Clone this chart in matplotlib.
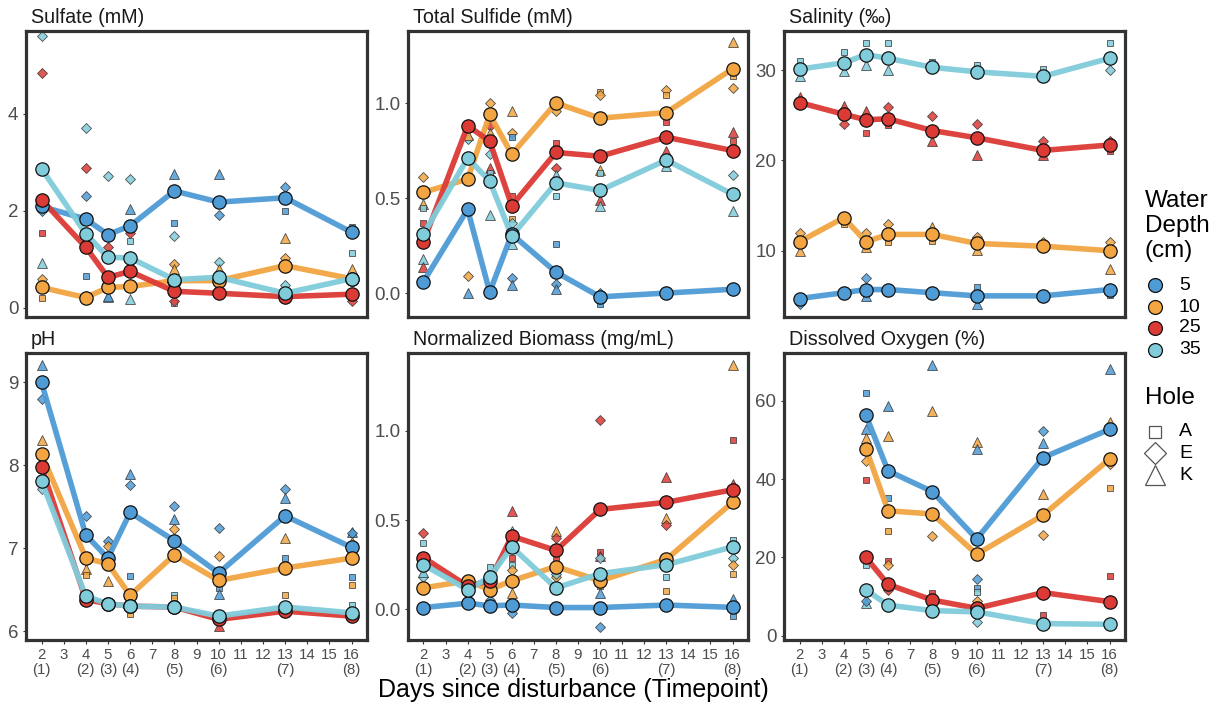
import numpy as np
import matplotlib
matplotlib.use("Agg")
import matplotlib.pyplot as plt

plt.rcParams['font.family'] = ['Liberation Sans', 'DejaVu Sans']

# ---------------- data ----------------
days = [2, 4, 5, 6, 8, 10, 13, 16]
timepoints = [1, 2, 3, 4, 5, 6, 7, 8]
depths = [5, 10, 25, 35]
depth_colors = ["#4E9BD5", "#F2A541", "#DC3A35", "#80CCDB"]
holes = ["A", "E", "K"]
hole_markers = ["s", "D", "^"]

# Sulfate (mM) means per depth
sulfate_5 = [2.09, 1.83, 1.51, 1.69, 2.41, 2.18, 2.27, 1.56]
sulfate_10 = [0.42, 0.21, 0.42, 0.44, 0.56, 0.56, 0.87, 0.60]
sulfate_25 = [2.23, 1.25, 0.63, 0.75, 0.34, 0.30, 0.23, 0.28]
sulfate_35 = [2.87, 1.53, 1.04, 1.03, 0.58, 0.63, 0.30, 0.60]
sulfate_pts = [
    (2, 35, 'E', 5.61), (2, 25, 'E', 4.84), (2, 5, 'E', 2.0), (2, 25, 'A', 1.54),
    (2, 35, 'K', 0.93), (2, 10, 'E', 0.60), (2, 10, 'A', 0.20),
    (4, 35, 'E', 3.71), (4, 25, 'E', 2.89), (4, 5, 'E', 2.31), (4, 5, 'A', 0.65), (4, 10, 'E', 0.25),
    (5, 35, 'E', 2.72), (5, 25, 'E', 1.25), (5, 35, 'K', 0.22), (5, 5, 'K', 0.25),
    (6, 35, 'E', 2.66), (6, 5, 'K', 2.03), (6, 25, 'E', 1.55), (6, 35, 'A', 1.37),
    (6, 35, 'K', 0.18), (6, 10, 'K', 0.50),
    (8, 5, 'K', 2.77), (8, 5, 'A', 1.74), (8, 35, 'E', 1.49), (8, 10, 'E', 0.90),
    (8, 10, 'K', 0.80), (8, 35, 'A', 0.09), (8, 25, 'E', 0.15),
    (10, 5, 'K', 2.75), (10, 5, 'E', 1.92), (10, 35, 'E', 0.95), (10, 10, 'K', 0.80),
    (13, 5, 'E', 2.49), (13, 5, 'A', 2.00), (13, 10, 'K', 1.44), (13, 10, 'E', 1.02),
    (13, 35, 'E', 0.47), (13, 25, 'E', 0.20),
    (16, 5, 'A', 1.67), (16, 35, 'A', 1.12), (16, 10, 'K', 0.81), (16, 25, 'E', 0.14),
]

# Total Sulfide (mM)
sulfide_5 = [0.06, 0.44, 0.005, 0.31, 0.11, -0.02, 0.0, 0.02]
sulfide_10 = [0.53, 0.60, 0.94, 0.73, 1.00, 0.92, 0.95, 1.18]
sulfide_25 = [0.27, 0.88, 0.80, 0.46, 0.74, 0.72, 0.82, 0.75]
sulfide_35 = [0.31, 0.71, 0.59, 0.30, 0.58, 0.54, 0.70, 0.52]
sulfide_pts = [
    (2, 10, 'E', 0.61), (2, 10, 'K', 0.47), (2, 35, 'A', 0.45), (2, 25, 'A', 0.37),
    (2, 35, 'K', 0.18), (2, 25, 'K', 0.135),
    (4, 10, 'E', 0.09), (4, 5, 'K', 0.0), (4, 35, 'E', 0.81), (4, 10, 'K', 0.83),
    (5, 10, 'E', 1.00), (5, 25, 'E', 0.88), (5, 10, 'K', 0.84), (5, 35, 'E', 0.73),
    (5, 25, 'K', 0.66), (5, 35, 'A', 0.63), (5, 35, 'K', 0.41),
    (6, 10, 'K', 0.96), (6, 10, 'E', 0.84), (6, 5, 'A', 0.82), (6, 25, 'A', 0.51),
    (6, 10, 'A', 0.39), (6, 35, 'E', 0.37), (6, 35, 'K', 0.26), (6, 5, 'E', 0.08), (6, 5, 'K', 0.04),
    (8, 10, 'A', 0.99), (8, 10, 'E', 0.96), (8, 25, 'A', 0.79), (8, 25, 'E', 0.66),
    (8, 35, 'K', 0.62), (8, 35, 'A', 0.51), (8, 5, 'A', 0.26), (8, 5, 'E', 0.05), (8, 5, 'K', 0.02),
    (10, 10, 'A', 1.06), (10, 10, 'E', 1.04), (10, 10, 'K', 0.65), (10, 35, 'A', 0.63),
    (10, 25, 'K', 0.49), (10, 35, 'K', 0.46), (10, 5, 'A', -0.056), (10, 5, 'E', 0.0),
    (13, 10, 'E', 1.07), (13, 10, 'A', 1.04), (13, 25, 'A', 0.90), (13, 25, 'K', 0.75), (13, 35, 'K', 0.67),
    (16, 10, 'K', 1.32), (16, 10, 'A', 1.14), (16, 10, 'E', 1.08), (16, 25, 'K', 0.85),
    (16, 25, 'A', 0.80), (16, 35, 'E', 0.62), (16, 35, 'K', 0.43),
]

# Salinity (permil)
salinity_5 = [4.7, 5.35, 5.7, 5.7, 5.35, 5.0, 5.0, 5.7]
salinity_10 = [11.0, 13.65, 11.0, 11.8, 11.8, 10.8, 10.5, 10.0]
salinity_25 = [26.4, 25.1, 24.5, 24.6, 23.3, 22.5, 21.1, 21.7]
salinity_35 = [30.1, 30.8, 31.7, 31.3, 30.3, 29.8, 29.3, 31.3]
salinity_pts = [
    (2, 35, 'A', 31.0), (2, 35, 'K', 29.3), (4, 35, 'A', 32.0), (4, 35, 'K', 29.9),
    (5, 35, 'A', 33.0), (5, 35, 'K', 30.55), (6, 35, 'A', 33.0), (6, 35, 'K', 30.0),
    (8, 35, 'A', 30.9), (10, 35, 'A', 30.55), (13, 35, 'A', 30.1), (16, 35, 'A', 33.0), (16, 35, 'E', 30.0),
    (2, 25, 'K', 27.0), (4, 25, 'K', 26.0), (4, 25, 'E', 24.0), (5, 25, 'K', 25.5), (5, 25, 'A', 23.0),
    (6, 25, 'E', 25.9), (6, 25, 'A', 23.9), (8, 25, 'E', 24.9), (8, 25, 'K', 22.1),
    (10, 25, 'E', 24.0), (10, 25, 'K', 20.6), (13, 25, 'E', 22.1), (13, 25, 'K', 20.6),
    (16, 25, 'E', 22.1), (16, 25, 'A', 21.0),
    (2, 10, 'E', 12.0), (2, 10, 'K', 10.0), (4, 10, 'A', 13.0), (5, 10, 'E', 12.0), (5, 10, 'K', 10.4),
    (6, 10, 'E', 13.0), (6, 10, 'A', 11.0), (8, 10, 'K', 12.6), (8, 10, 'A', 11.1),
    (10, 10, 'E', 11.5), (10, 10, 'K', 10.1), (13, 10, 'E', 11.0), (16, 10, 'E', 11.0), (16, 10, 'K', 8.0),
    (2, 5, 'E', 4.1), (5, 5, 'E', 7.0), (5, 5, 'K', 5.0), (10, 5, 'A', 6.0), (10, 5, 'K', 4.1), (16, 5, 'A', 5.1),
]

# pH
ph_5 = [9.00, 7.16, 6.88, 7.43, 7.09, 6.70, 7.39, 7.01]
ph_10 = [8.14, 6.88, 6.81, 6.43, 6.92, 6.61, 6.76, 6.88]
ph_25 = [7.98, 6.38, 6.33, 6.30, 6.29, 6.14, 6.24, 6.18]
ph_35 = [7.81, 6.42, 6.33, 6.30, 6.29, 6.18, 6.29, 6.22]
ph_pts = [
    (2, 5, 'K', 9.21), (2, 5, 'E', 8.80), (2, 10, 'K', 8.31), (2, 35, 'E', 7.71),
    (4, 5, 'E', 7.39), (4, 10, 'K', 6.75), (4, 10, 'A', 6.68),
    (5, 5, 'E', 7.09), (5, 10, 'E', 7.02), (5, 10, 'K', 6.60),
    (6, 5, 'K', 7.89), (6, 5, 'E', 7.76), (6, 5, 'A', 6.67), (6, 10, 'A', 6.21),
    (8, 5, 'E', 7.51), (8, 5, 'K', 7.35), (8, 10, 'E', 7.23), (8, 35, 'A', 6.44), (8, 10, 'A', 6.40),
    (10, 5, 'E', 7.24), (10, 10, 'E', 6.90), (10, 5, 'A', 6.52), (10, 5, 'K', 6.45), (10, 25, 'K', 6.06),
    (13, 5, 'E', 7.71), (13, 5, 'K', 7.61), (13, 10, 'K', 7.12), (13, 5, 'A', 6.88), (13, 10, 'A', 6.44),
    (16, 5, 'K', 7.20), (16, 5, 'E', 7.18), (16, 10, 'K', 7.07), (16, 5, 'A', 6.65),
    (16, 10, 'A', 6.56), (16, 35, 'A', 6.32),
]

# Normalized Biomass (mg/mL)
biomass_5 = [0.01, 0.034, 0.02, 0.024, 0.01, 0.01, 0.024, 0.011]
biomass_10 = [0.12, 0.16, 0.11, 0.16, 0.24, 0.16, 0.28, 0.60]
biomass_25 = [0.29, 0.13, 0.16, 0.41, 0.33, 0.56, 0.60, 0.67]
biomass_35 = [0.25, 0.11, 0.18, 0.35, 0.12, 0.20, 0.25, 0.35]
biomass_pts = [
    (2, 25, 'E', 0.43), (2, 35, 'A', 0.37), (2, 35, 'E', 0.18), (2, 35, 'K', 0.21),
    (5, 35, 'A', 0.24), (5, 5, 'E', 0.05),
    (6, 25, 'K', 0.55), (6, 35, 'K', 0.44), (6, 25, 'A', 0.29), (6, 35, 'A', 0.25),
    (6, 10, 'E', 0.22), (6, 10, 'K', 0.09), (6, 5, 'E', -0.02),
    (8, 10, 'K', 0.44), (8, 25, 'E', 0.40), (8, 25, 'A', 0.28), (8, 10, 'E', 0.18), (8, 35, 'E', 0.20),
    (10, 25, 'E', 1.06), (10, 25, 'A', 0.32), (10, 25, 'K', 0.30), (10, 35, 'E', 0.29),
    (10, 5, 'K', 0.09), (10, 10, 'A', 0.13), (10, 5, 'E', -0.10),
    (13, 25, 'K', 0.74), (13, 10, 'K', 0.51), (13, 25, 'E', 0.47), (13, 35, 'A', 0.18), (13, 10, 'A', 0.10),
    (16, 10, 'K', 1.37), (16, 25, 'A', 0.95), (16, 25, 'K', 0.70), (16, 35, 'A', 0.39),
    (16, 35, 'E', 0.29), (16, 10, 'E', 0.25), (16, 10, 'A', 0.20), (16, 5, 'K', 0.06), (16, 5, 'A', -0.04),
]

# Dissolved Oxygen (%) - not measured on days 2 and 4
do_5 = [np.nan, np.nan, 56.3, 42.1, 36.8, 24.7, 45.5, 52.7]
do_10 = [np.nan, np.nan, 47.8, 31.9, 31.1, 20.8, 30.8, 45.1]
do_25 = [np.nan, np.nan, 20.0, 13.1, 9.1, 7.0, 11.0, 8.7]
do_35 = [np.nan, np.nan, 11.7, 7.8, 6.4, 6.1, 3.1, 2.9]
do_pts = [
    (5, 5, 'A', 62.0), (5, 5, 'K', 52.9), (5, 10, 'K', 50.4), (5, 10, 'E', 44.6), (5, 25, 'A', 39.7),
    (5, 35, 'A', 18.0), (5, 35, 'K', 8.3), (5, 5, 'E', 8.8),
    (6, 5, 'K', 58.7), (6, 10, 'K', 51.1), (6, 5, 'A', 35.1), (6, 10, 'A', 26.8), (6, 25, 'A', 19.1),
    (6, 10, 'E', 18.0), (6, 25, 'E', 11.7),
    (8, 5, 'K', 69.1), (8, 10, 'K', 57.4), (8, 10, 'E', 25.5), (8, 25, 'A', 10.8),
    (10, 10, 'K', 49.5), (10, 5, 'K', 47.8), (10, 5, 'E', 14.5), (10, 5, 'A', 12.1),
    (10, 35, 'A', 11.2), (10, 10, 'E', 8.9), (10, 35, 'E', 3.6),
    (13, 5, 'E', 52.3), (13, 5, 'K', 49.1), (13, 10, 'K', 36.1), (13, 10, 'E', 25.7), (13, 25, 'A', 5.3),
    (16, 5, 'K', 68.1), (16, 10, 'K', 54.5), (16, 10, 'E', 43.8), (16, 10, 'A', 37.6), (16, 25, 'A', 15.2),
]

panels = [
    ("Sulfate (mM)", [sulfate_5, sulfate_10, sulfate_25, sulfate_35], sulfate_pts,
     (-0.19, 5.71), [0, 2, 4], ["0", "2", "4"]),
    ("Total Sulfide (mM)", [sulfide_5, sulfide_10, sulfide_25, sulfide_35], sulfide_pts,
     (-0.126, 1.379), [0.0, 0.5, 1.0], ["0.0", "0.5", "1.0"]),
    ("Salinity (‰)", [salinity_5, salinity_10, salinity_25, salinity_35], salinity_pts,
     (2.66, 34.32), [10, 20, 30], ["10", "20", "30"]),
    ("pH", [ph_5, ph_10, ph_25, ph_35], ph_pts,
     (5.892, 9.354), [6, 7, 8, 9], ["6", "7", "8", "9"]),
    ("Normalized Biomass (mg/mL)", [biomass_5, biomass_10, biomass_25, biomass_35], biomass_pts,
     (-0.172, 1.437), [0.0, 0.5, 1.0], ["0.0", "0.5", "1.0"]),
    ("Dissolved Oxygen (%)", [do_5, do_10, do_25, do_35], do_pts,
     (-1.1, 72.2), [0, 20, 40, 60], ["0", "20", "40", "60"]),
]

xtick_days = list(range(2, 17))
xtick_labels = []
for d in xtick_days:
    if d in days:
        xtick_labels.append(f"{d}\n({timepoints[days.index(d)]})")
    else:
        xtick_labels.append(str(d))

# ---------------- figure ----------------
W, H = 1220, 704
fig = plt.figure(figsize=(W / 100, H / 100), dpi=100)
cols = [(26, 367), (408, 748), (784, 1125)]
rows = [(31, 317), (353, 640)]

frame_col = "#333333"
tick_col = "#4D4D4D"
marker_sizes = {"s": 4.9, "D": 4.6, "^": 6.5}

for i, (title, means, pts, ylim, yt, ytl) in enumerate(panels):
    r, c = divmod(i, 3)
    x0, x1 = cols[c]
    y0, y1 = rows[r]
    ax = fig.add_axes([x0 / W, (H - y1) / H, (x1 - x0) / W, (y1 - y0) / H])
    ax.set_xlim(1.3, 16.7)
    ax.set_ylim(*ylim)

    # individual hole points
    for (d, dep, hole, v) in pts:
        col = depth_colors[depths.index(dep)]
        mk = hole_markers[holes.index(hole)]
        ax.plot([d], [v], linestyle="none", marker=mk, markersize=marker_sizes[mk],
                markerfacecolor=col, markeredgecolor="#333333", markeredgewidth=0.6,
                alpha=0.85, zorder=2)
    # mean lines
    for k, m in enumerate(means):
        arr = np.array(m, dtype=float)
        ok = ~np.isnan(arr)
        ax.plot(np.array(days)[ok], arr[ok], color=depth_colors[k], lw=4.0,
                alpha=0.95, solid_capstyle="round", solid_joinstyle="round", zorder=3 + k * 0.01)
    # mean points
    for k, m in enumerate(means):
        arr = np.array(m, dtype=float)
        ok = ~np.isnan(arr)
        ax.plot(np.array(days)[ok], arr[ok], linestyle="none", marker="o", markersize=9.6,
                markerfacecolor=depth_colors[k], markeredgecolor="#111111",
                markeredgewidth=0.9, zorder=4 + k * 0.01)

    for sp in ax.spines.values():
        sp.set_linewidth(2.3)
        sp.set_color(frame_col)
    ax.set_yticks(yt)
    ax.set_yticklabels(ytl)
    ax.tick_params(axis="y", length=2.5, width=0.8, color=frame_col, labelsize=13.5,
                   labelcolor=tick_col, pad=3)
    ax.set_xticks(xtick_days)
    if r == 1:
        ax.set_xticklabels(xtick_labels, linespacing=1.05)
        ax.tick_params(axis="x", length=3, width=0.8, color=frame_col, labelsize=10.8,
                       labelcolor=tick_col, pad=3)
    else:
        ax.tick_params(axis="x", length=0, labelbottom=False)
    ax.annotate(title, xy=(0, 1), xycoords="axes fraction", xytext=(3.5, 6),
                textcoords="offset points", ha="left", va="baseline",
                fontsize=14.2, color="#1A1A1A")

fig.text(573 / W, 1 - 690 / H, "Days since disturbance (Timepoint)", ha="center",
         va="center", fontsize=18, color="#000000")

# ---------------- legend (manual) ----------------
lax = fig.add_axes([0, 0, 1, 1])
lax.set_xlim(0, W)
lax.set_ylim(H, 0)
lax.axis("off")
lax.text(1145, 226, "Water\nDepth\n(cm)", ha="left", va="center", fontsize=17.5,
         linespacing=1.2, color="#000000")
leg_y = [285, 307, 328, 350]
for k, dep in enumerate(depths):
    lax.plot([1155], [leg_y[k]], linestyle="none", marker="o", markersize=10,
             markerfacecolor=depth_colors[k], markeredgecolor="#111111", markeredgewidth=0.9)
    lax.text(1179, leg_y[k], str(dep), ha="left", va="center", fontsize=14, color="#000000")
lax.text(1145, 398, "Hole", ha="left", va="center", fontsize=17.5, color="#000000")
hole_y = [432, 453, 475]
hole_leg_sizes = {"s": 9, "D": 11, "^": 14}
for k, h in enumerate(holes):
    mk = hole_markers[k]
    lax.plot([1155], [hole_y[k]], linestyle="none", marker=mk, markersize=hole_leg_sizes[mk],
             markerfacecolor="white", markeredgecolor="#555555", markeredgewidth=0.9)
    lax.text(1179, hole_y[k], h, ha="left", va="center", fontsize=14, color="#000000")

fig.savefig("out.png", dpi=100, facecolor="white")
